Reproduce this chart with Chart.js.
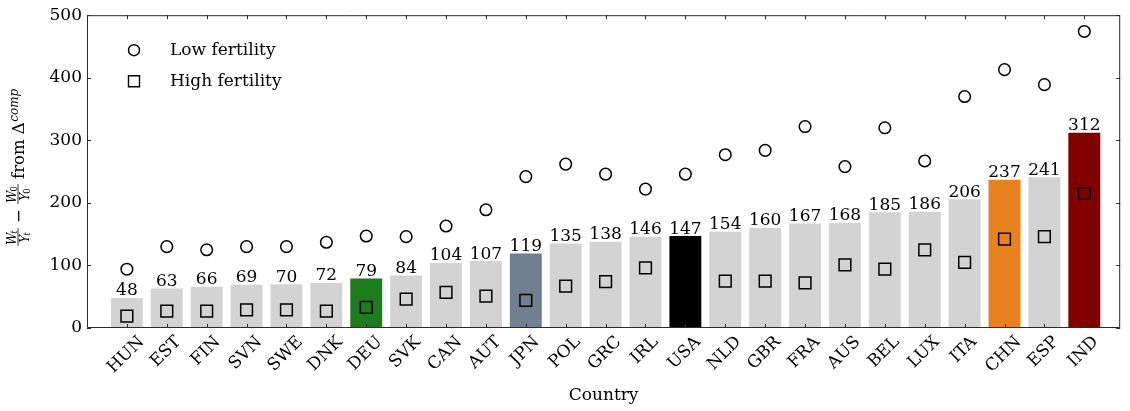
<!DOCTYPE html>
<html>
<head>
<meta charset="utf-8">
<script src="https://cdn.jsdelivr.net/npm/chart.js@4/dist/chart.umd.min.js"></script>
<style>
  html, body { margin: 0; padding: 0; background: #ffffff; }
  #wrap { width: 1130px; height: 411px; position: relative; }
</style>
</head>
<body>
<div id="wrap"><canvas id="chart"></canvas></div>
<script>
// Countries ordered by the size of the compositional change
const countries = ['HUN','EST','FIN','SVN','SWE','DNK','DEU','SVK','CAN','AUT','JPN','POL','GRC',
                   'IRL','USA','NLD','GBR','FRA','AUS','BEL','LUX','ITA','CHN','ESP','IND'];
// Baseline change (bars)
const baseline = [48, 63, 66, 69, 70, 72, 79, 84, 104, 107, 119, 135, 138,
                  146, 147, 154, 160, 167, 168, 185, 186, 206, 237, 241, 312];
// Low-fertility scenario (circles)
const lowFertility = [94, 130, 125, 130, 130, 137, 147, 146, 163, 189, 242, 262, 246,
                      222, 246, 277, 284, 322, 258, 320, 267, 370, 413, 389, 474];
// High-fertility scenario (squares)
const highFertility = [19, 27, 27, 29, 29, 27, 33, 46, 57, 51, 44, 67, 74,
                       96, 62, 75, 75, 72, 101, 94, 125, 105, 142, 146, 215];
// Value axis ticks
const yTicks = [0, 100, 200, 300, 400, 500];

const highlightColors = { DEU: '#1e7b1e', JPN: '#708090', USA: '#000000', CHN: '#e9821e', IND: '#800000' };
const DEFAULT_BAR = '#d3d3d3';
const SERIF = '"DejaVu Serif", "Liberation Serif", serif';
const INK = '#000000';
const FRAME = '#2a2a2a';
const TEXT_SIZE = 17;

// Inward tick marks and a closed frame around the plot
const framePlugin = {
  id: 'frame',
  afterDatasetsDraw(chart) {
    const { ctx, chartArea: a, scales: { x, y } } = chart;
    ctx.save();
    ctx.strokeStyle = FRAME;
    ctx.lineWidth = 1;
    ctx.beginPath();
    ctx.rect(a.left + 0.5, a.top + 0.5, a.right - a.left - 1, a.bottom - a.top - 1);
    const tl = 4;
    yTicks.forEach(v => {
      const py = Math.round(y.getPixelForValue(v)) + 0.5;
      ctx.moveTo(a.left, py); ctx.lineTo(a.left + tl, py);
      ctx.moveTo(a.right, py); ctx.lineTo(a.right - tl, py);
    });
    countries.forEach((_, i) => {
      const px = Math.round(x.getPixelForValue(i)) + 0.5;
      ctx.moveTo(px, a.top); ctx.lineTo(px, a.top + tl);
      ctx.moveTo(px, a.bottom); ctx.lineTo(px, a.bottom - tl);
    });
    ctx.stroke();
    ctx.restore();
  }
};

// Country names, rotated 45° and centred under their ticks
const countryLabelPlugin = {
  id: 'countryLabels',
  afterDraw(chart) {
    const { ctx, chartArea: a, scales: { x } } = chart;
    const s = Math.SQRT1_2;
    ctx.save();
    ctx.fillStyle = INK;
    ctx.font = TEXT_SIZE + 'px ' + SERIF;
    ctx.textAlign = 'center';
    ctx.textBaseline = 'alphabetic';
    countries.forEach((name, i) => {
      const m = ctx.measureText(name);
      const L = m.width;
      const capH = m.actualBoundingBoxAscent;
      const half = (L + capH) * s / 2;
      const cx = x.getPixelForValue(i) - 2;
      const cy = a.bottom + 6 + half;
      ctx.save();
      ctx.translate(cx, cy);
      ctx.rotate(-Math.PI / 4);
      ctx.fillText(name, 0, capH / 2);
      ctx.restore();
    });
    ctx.restore();
  }
};

// Value labels above each bar
const barLabelPlugin = {
  id: 'barLabels',
  afterDatasetsDraw(chart) {
    const { ctx } = chart;
    const meta = chart.getDatasetMeta(0);
    ctx.save();
    ctx.fillStyle = INK;
    ctx.font = TEXT_SIZE + 'px ' + SERIF;
    ctx.textAlign = 'center';
    ctx.textBaseline = 'alphabetic';
    meta.data.forEach((bar, i) => {
      ctx.fillText(String(baseline[i]), bar.x, bar.y - 2.5);
    });
    ctx.restore();
  }
};

// Marker legend in the upper-left corner of the plot
const markerLegendPlugin = {
  id: 'markerLegend',
  afterDraw(chart) {
    const { ctx, chartArea: a } = chart;
    const items = [
      { label: 'Low fertility', style: 'circle', dy: 35 },
      { label: 'High fertility', style: 'rect', dy: 66 }
    ];
    ctx.save();
    ctx.strokeStyle = INK;
    ctx.lineWidth = 1.4;
    ctx.fillStyle = INK;
    ctx.font = TEXT_SIZE + 'px ' + SERIF;
    ctx.textAlign = 'left';
    ctx.textBaseline = 'middle';
    items.forEach(it => {
      const cx = a.left + 47, cy = a.top + it.dy;
      ctx.beginPath();
      if (it.style === 'circle') ctx.arc(cx, cy, 5.5, 0, Math.PI * 2);
      else ctx.rect(cx - 5.5, cy - 5.5, 11, 11);
      ctx.stroke();
      ctx.fillText(it.label, a.left + 83, cy);
    });
    ctx.restore();
  }
};

// Rotated axis title: W_t/Y_t − W_0/Y_0 from Δ^comp
const yTitlePlugin = {
  id: 'yTitle',
  afterDraw(chart) {
    const { ctx, chartArea: a } = chart;
    const main = '16.5px ' + SERIF;
    const mathIt = 'italic 12px ' + SERIF;
    const subIt = 'italic 8.5px ' + SERIF;
    const subUp = '8.5px ' + SERIF;
    const supIt = 'italic 12px ' + SERIF;

    const w = (font, s) => { ctx.font = font; return ctx.measureText(s).width; };
    const fracW = (sym1, sub1, sym2, sub2, subFont) =>
      Math.max(w(mathIt, sym1) + w(subFont, sub1), w(mathIt, sym2) + w(subFont, sub2)) + 2;

    const f1 = fracW('W', 't', 'Y', 't', subIt);
    const minus = ' \u2212 ';
    const f2 = fracW('W', '0', 'Y', '0', subUp);
    const fromTxt = ' from \u0394';
    const total = f1 + w(main, minus) + f2 + w(main, fromTxt) + w(supIt, 'comp');

    ctx.save();
    ctx.translate(24, (a.top + a.bottom) / 2 - 4);
    ctx.rotate(-Math.PI / 2);
    ctx.fillStyle = INK;
    ctx.strokeStyle = INK;
    ctx.textBaseline = 'alphabetic';
    ctx.textAlign = 'left';
    let x = -total / 2;

    const drawFrac = (fw, sym1, sub1, sym2, sub2, subFont) => {
      const nW = w(mathIt, sym1) + w(subFont, sub1);
      const dW = w(mathIt, sym2) + w(subFont, sub2);
      let nx = x + (fw - nW) / 2;
      ctx.font = mathIt; ctx.fillText(sym1, nx, -8.5);
      nx += w(mathIt, sym1) - 1;
      ctx.font = subFont; ctx.fillText(sub1, nx, -6.8);
      let dx = x + (fw - dW) / 2;
      ctx.font = mathIt; ctx.fillText(sym2, dx, 4.5);
      dx += w(mathIt, sym2) - 1;
      ctx.font = subFont; ctx.fillText(sub2, dx, 6.2);
      ctx.lineWidth = 0.8;
      ctx.beginPath();
      ctx.moveTo(x, -6); ctx.lineTo(x + fw, -6);
      ctx.stroke();
      x += fw;
    };

    drawFrac(f1, 'W', 't', 'Y', 't', subIt);
    ctx.font = main; ctx.fillText(minus, x, 0); x += w(main, minus);
    drawFrac(f2, 'W', '0', 'Y', '0', subUp);
    ctx.font = main; ctx.fillText(fromTxt, x, 0); x += w(main, fromTxt);
    ctx.font = supIt; ctx.fillText('comp', x + 0.5, -6.5);
    ctx.restore();
  }
};

const tickFont = { family: SERIF, size: TEXT_SIZE };

new Chart(document.getElementById('chart'), {
  type: 'bar',
  data: {
    datasets: [
      {
        type: 'bar',
        label: 'Baseline',
        data: countries.map((c, i) => ({ x: i, y: baseline[i] })),
        backgroundColor: countries.map(c => highlightColors[c] || DEFAULT_BAR),
        borderWidth: 0,
        categoryPercentage: 0.8,
        barPercentage: 1.0,
        order: 3
      },
      {
        type: 'scatter',
        label: 'Low fertility',
        data: countries.map((c, i) => ({ x: i, y: lowFertility[i] })),
        pointStyle: 'circle',
        pointRadius: 5.8,
        pointBorderWidth: 1.5,
        pointBorderColor: INK,
        pointBackgroundColor: 'rgba(0,0,0,0)',
        showLine: false,
        order: 1
      },
      {
        type: 'scatter',
        label: 'High fertility',
        data: countries.map((c, i) => ({ x: i, y: highFertility[i] })),
        pointStyle: 'rect',
        pointRadius: 8.3,
        pointBorderWidth: 1.5,
        pointBorderColor: INK,
        pointBackgroundColor: 'rgba(0,0,0,0)',
        showLine: false,
        order: 1
      }
    ]
  },
  options: {
    responsive: true,
    maintainAspectRatio: false,
    animation: false,
    events: [],
    layout: { padding: { top: 13, right: 1, left: 0, bottom: 0 } },
    plugins: { legend: { display: false }, tooltip: { enabled: false } },
    scales: {
      x: {
        type: 'linear',
        min: -1,
        max: 24.9,
        offset: false,
        grid: { display: false, drawTicks: false },
        border: { display: false },
        afterBuildTicks: s => { s.ticks = countries.map((_, i) => ({ value: i })); },
        afterFit: s => { s.height = 83; },
        ticks: { display: false },
        title: {
          display: true,
          text: 'Country',
          color: INK,
          font: tickFont,
          padding: { top: 0, bottom: 5 }
        }
      },
      y: {
        min: 0,
        max: 500,
        grid: { display: false, drawTicks: false },
        border: { display: false },
        afterBuildTicks: s => { s.ticks = yTicks.map(v => ({ value: v })); },
        afterFit: s => { s.width = 87; },
        ticks: { padding: 5, color: INK, font: tickFont }
      }
    }
  },
  plugins: [framePlugin, barLabelPlugin, countryLabelPlugin, markerLegendPlugin, yTitlePlugin]
});
</script>
</body>
</html>
